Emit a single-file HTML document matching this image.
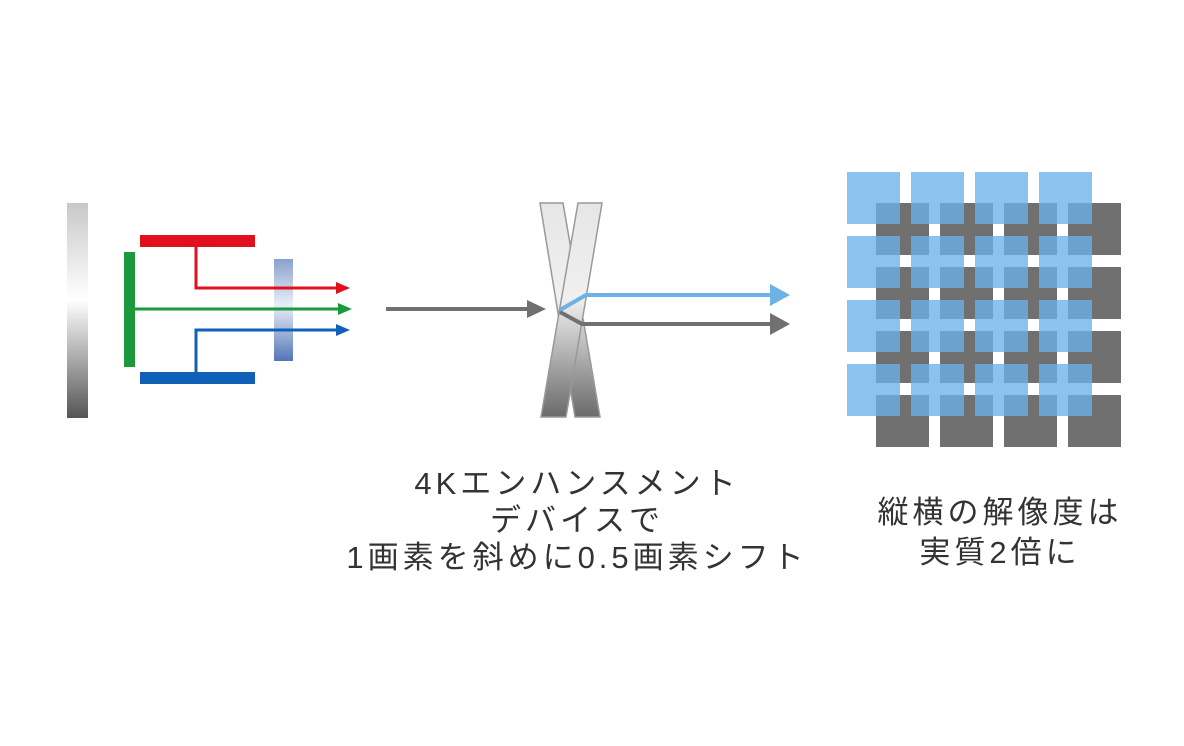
<!DOCTYPE html>
<html><head><meta charset="utf-8"><style>
html,body{margin:0;padding:0;background:#fff;}
svg{display:block;}
text{font-family:"Liberation Sans","Noto Sans CJK JP",sans-serif;fill:#333;font-size:31px;letter-spacing:4px;}
</style></head><body>
<svg width="1184" height="746" viewBox="0 0 1184 746" xmlns="http://www.w3.org/2000/svg">
<defs>
<linearGradient id="gbar" x1="0" y1="0" x2="0" y2="1">
<stop offset="0" stop-color="#c8c8c8"/><stop offset="0.45" stop-color="#ffffff"/><stop offset="1" stop-color="#555"/>
</linearGradient>
<linearGradient id="fbar" x1="0" y1="0" x2="0" y2="1">
<stop offset="0" stop-color="#7d96c8"/><stop offset="0.45" stop-color="#e6ecf6"/><stop offset="1" stop-color="#3f66b0"/>
</linearGradient>
<linearGradient id="xg" x1="0" y1="0" x2="0" y2="1">
<stop offset="0" stop-color="#e6e6e6"/><stop offset="0.45" stop-color="#f0f0f0"/><stop offset="1" stop-color="#6a6a6a"/>
</linearGradient>
</defs>
<!-- left -->
<rect x="67" y="203" width="21" height="215" fill="url(#gbar)"/>
<rect x="140" y="235" width="115" height="12" fill="#e0101e"/>
<rect x="124" y="252" width="11" height="115" fill="#1a9a3c"/>
<rect x="140" y="372" width="115" height="12" fill="#1060b8"/>
<rect x="274" y="259" width="19" height="102" fill="url(#fbar)" opacity="0.9"/>
<polyline points="196,247 196,288 338,288" fill="none" stroke="#e0101e" stroke-width="3"/>
<polygon points="336,282 350,288 336,294" fill="#e0101e"/>
<line x1="135" y1="309" x2="340" y2="309" stroke="#1a9a3c" stroke-width="3"/>
<polygon points="338,303 352,309 338,315" fill="#1a9a3c"/>
<polyline points="196,372 196,330 338,330" fill="none" stroke="#1060b8" stroke-width="3"/>
<polygon points="336,324 350,330 336,336" fill="#1060b8"/>
<!-- middle -->
<line x1="386" y1="309" x2="532" y2="309" stroke="#707070" stroke-width="4"/>
<polygon points="527,300 546,309 527,318" fill="#707070"/>
<polygon points="540,203 563,203 600,417 575,417" fill="url(#xg)" stroke="#999" stroke-width="1.5"/>
<polygon points="578,203 602,203 566,417 541,417" fill="url(#xg)" stroke="#999" stroke-width="1.5"/>
<polyline points="560,310 586,295 775,295" fill="none" stroke="#6cb2e6" stroke-width="4"/>
<polygon points="770,284 790,295 770,306" fill="#6cb2e6"/>
<polyline points="560,312 582,324 775,324" fill="none" stroke="#707070" stroke-width="4"/>
<polygon points="770,313 790,324 770,335" fill="#707070"/>
<!-- grid gray -->
<g fill="#707070">
<rect x="876" y="203" width="53" height="52"/><rect x="940" y="203" width="53" height="52"/><rect x="1004" y="203" width="53" height="52"/><rect x="1068" y="203" width="53" height="52"/>
<rect x="876" y="267" width="53" height="52"/><rect x="940" y="267" width="53" height="52"/><rect x="1004" y="267" width="53" height="52"/><rect x="1068" y="267" width="53" height="52"/>
<rect x="876" y="331" width="53" height="52"/><rect x="940" y="331" width="53" height="52"/><rect x="1004" y="331" width="53" height="52"/><rect x="1068" y="331" width="53" height="52"/>
<rect x="876" y="395" width="53" height="52"/><rect x="940" y="395" width="53" height="52"/><rect x="1004" y="395" width="53" height="52"/><rect x="1068" y="395" width="53" height="52"/>
</g>
<g fill="rgb(108,178,233)" fill-opacity="0.78">
<rect x="847" y="172" width="53" height="52"/><rect x="911" y="172" width="53" height="52"/><rect x="975" y="172" width="53" height="52"/><rect x="1039" y="172" width="53" height="52"/>
<rect x="847" y="236" width="53" height="52"/><rect x="911" y="236" width="53" height="52"/><rect x="975" y="236" width="53" height="52"/><rect x="1039" y="236" width="53" height="52"/>
<rect x="847" y="300" width="53" height="52"/><rect x="911" y="300" width="53" height="52"/><rect x="975" y="300" width="53" height="52"/><rect x="1039" y="300" width="53" height="52"/>
<rect x="847" y="364" width="53" height="52"/><rect x="911" y="364" width="53" height="52"/><rect x="975" y="364" width="53" height="52"/><rect x="1039" y="364" width="53" height="52"/>
</g>
<!-- text -->
<text x="577" y="494" text-anchor="middle">4Kエンハンスメント</text>
<text x="577" y="531" text-anchor="middle">デバイスで</text>
<text x="577" y="568" text-anchor="middle">1画素を斜めに0.5画素シフト</text>
<text x="1000" y="523" text-anchor="middle">縦横の解像度は</text>
<text x="1000" y="563" text-anchor="middle">実質2倍に</text>
</svg>
</body></html>
